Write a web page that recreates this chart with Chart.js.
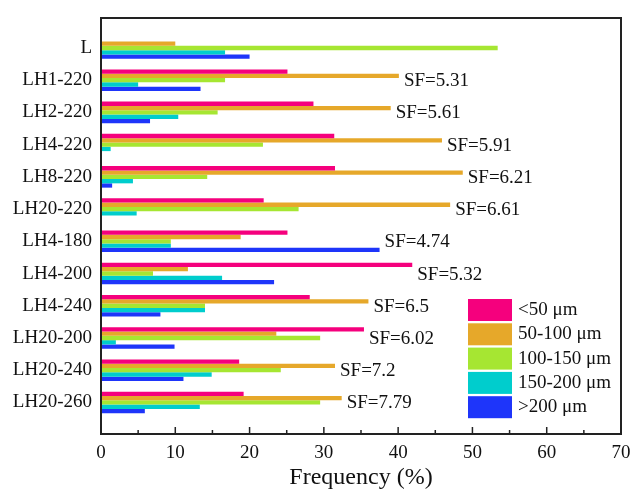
<!DOCTYPE html>
<html><head><meta charset="utf-8">
<script src="https://cdn.jsdelivr.net/npm/chart.js@4.4.1/dist/chart.umd.min.js"></script>
<style>html,body{margin:0;padding:0;background:#fff;}#wrap{width:633px;height:490px;}</style>
</head><body><div id="wrap"><canvas id="c" width="633" height="490"></canvas></div>
<script>
const categories = ['L','LH1-220','LH2-220','LH4-220','LH8-220','LH20-220','LH4-180','LH4-200','LH4-240','LH20-200','LH20-240','LH20-260'];
const lt50     = [0,    25.1, 28.6, 31.4, 31.5, 21.9, 25.1, 41.9, 28.1, 35.4, 18.6, 19.2];
const s50_100  = [10.0, 40.1, 39.0, 45.9, 48.7, 47.0, 18.8, 11.7, 36.0, 23.6, 31.5, 32.4];
const s100_150 = [53.4, 16.7, 15.7, 21.8, 14.3, 26.6,  9.4,  7.0, 14.0, 29.5, 24.2, 29.5];
const s150_200 = [16.7,  5.0, 10.4,  1.3,  4.3,  4.8,  9.4, 16.3, 14.0,  2.0, 14.9, 13.3];
const gt200    = [20.0, 13.4,  6.6,  0,    1.5,  0,   37.5, 23.3,  8.0,  9.9, 11.1,  5.9];
const seriesNames = ['<50 \u03bcm','50-100 \u03bcm','100-150 \u03bcm','150-200 \u03bcm','>200 \u03bcm'];
const colors = ['#F5007D','#E6A82A','#A6E632','#00CDCD','#1E35FA'];
const sfLabels = ['','SF=5.31','SF=5.61','SF=5.91','SF=6.21','SF=6.61','SF=4.74','SF=5.32','SF=6.5','SF=6.02','SF=7.2','SF=7.79'];
const xTickValues = [0,10,20,30,40,50,60,70];

const series = [lt50, s50_100, s100_150, s150_200, gt200];
const FONT = "'Liberation Serif','Times New Roman',serif";
const TXT = '#111';

const decor = {
  id:'decor',
  afterDraw(chart){
    const {ctx, chartArea:a, scales:{x,y}} = chart;
    ctx.save();
    ctx.strokeStyle='#222';
    ctx.lineWidth=2;
    ctx.strokeRect(a.left, a.top, a.right-a.left, a.bottom-a.top);
    ctx.lineWidth=1.5;
    for(let v=0; v<=70; v+=5){
      const px = x.getPixelForValue(v);
      const len = (v%10===0)?7:4;
      ctx.beginPath(); ctx.moveTo(px, a.bottom); ctx.lineTo(px, a.bottom-len); ctx.stroke();
    }
    ctx.fillStyle=TXT;
    ctx.font = "19px "+FONT;
    ctx.textAlign='left'; ctx.textBaseline='middle';
    categories.forEach((c,i)=>{
      if(!sfLabels[i]) return;
      const mx = Math.max(...series.map(s=>s[i]));
      ctx.fillText(sfLabels[i], x.getPixelForValue(mx)+5, y.getPixelForValue(i)+1);
    });
    // legend
    const lx = a.right-153, ly = a.bottom-135;
    seriesNames.forEach((n,k)=>{
      const t = ly + k*24.3;
      ctx.fillStyle=colors[k];
      ctx.fillRect(lx, t, 44, 22);
      ctx.fillStyle=TXT;
      ctx.fillText(n, lx+50, t+11);
    });
    ctx.restore();
  }
};

new Chart(document.getElementById('c'), {
  type:'bar',
  data:{
    datasets: series.map((arr,k)=>({
      label: seriesNames[k],
      data: arr.map((v,i)=>({x:v, y:i})),
      backgroundColor: colors[k],
      borderWidth:0,
      categoryPercentage:0.67,
      barPercentage:1
    }))
  },
  options:{
    indexAxis:'y',
    responsive:false,
    animation:false,
    layout:{padding:{top:18,right:12,left:0,bottom:0}},
    plugins:{legend:{display:false}, tooltip:{enabled:false}},
    scales:{
      x:{
        type:'linear', min:0, max:70, offset:false,
        afterBuildTicks(s){ s.ticks = xTickValues.map(v=>({value:v})); },
        ticks:{font:{family:FONT,size:19}, color:TXT, padding:8},
        grid:{display:false, drawTicks:false},
        border:{display:false},
        title:{display:true, text:'Frequency (%)', font:{family:FONT,size:24,lineHeight:1}, color:TXT, padding:{top:0,bottom:0}},
        afterFit(s){ s.height = 56; s.paddingLeft = 0; s.paddingRight = 0; }
      },
      y:{
        type:'linear', reverse:true, min:-0.93, max:11.98, offset:false,
        afterBuildTicks(s){ s.ticks = categories.map((c,i)=>({value:i})); },
        ticks:{autoSkip:false, callback:(v)=>categories[v] ?? '', font:{family:FONT,size:19}, color:TXT, padding:9},
        grid:{display:false, drawTicks:false, offset:false},
        border:{display:false},
        afterFit(s){ s.width = 101; s.paddingTop = 0; s.paddingBottom = 0; }
      }
    }
  },
  plugins:[decor]
});
</script></body></html>
